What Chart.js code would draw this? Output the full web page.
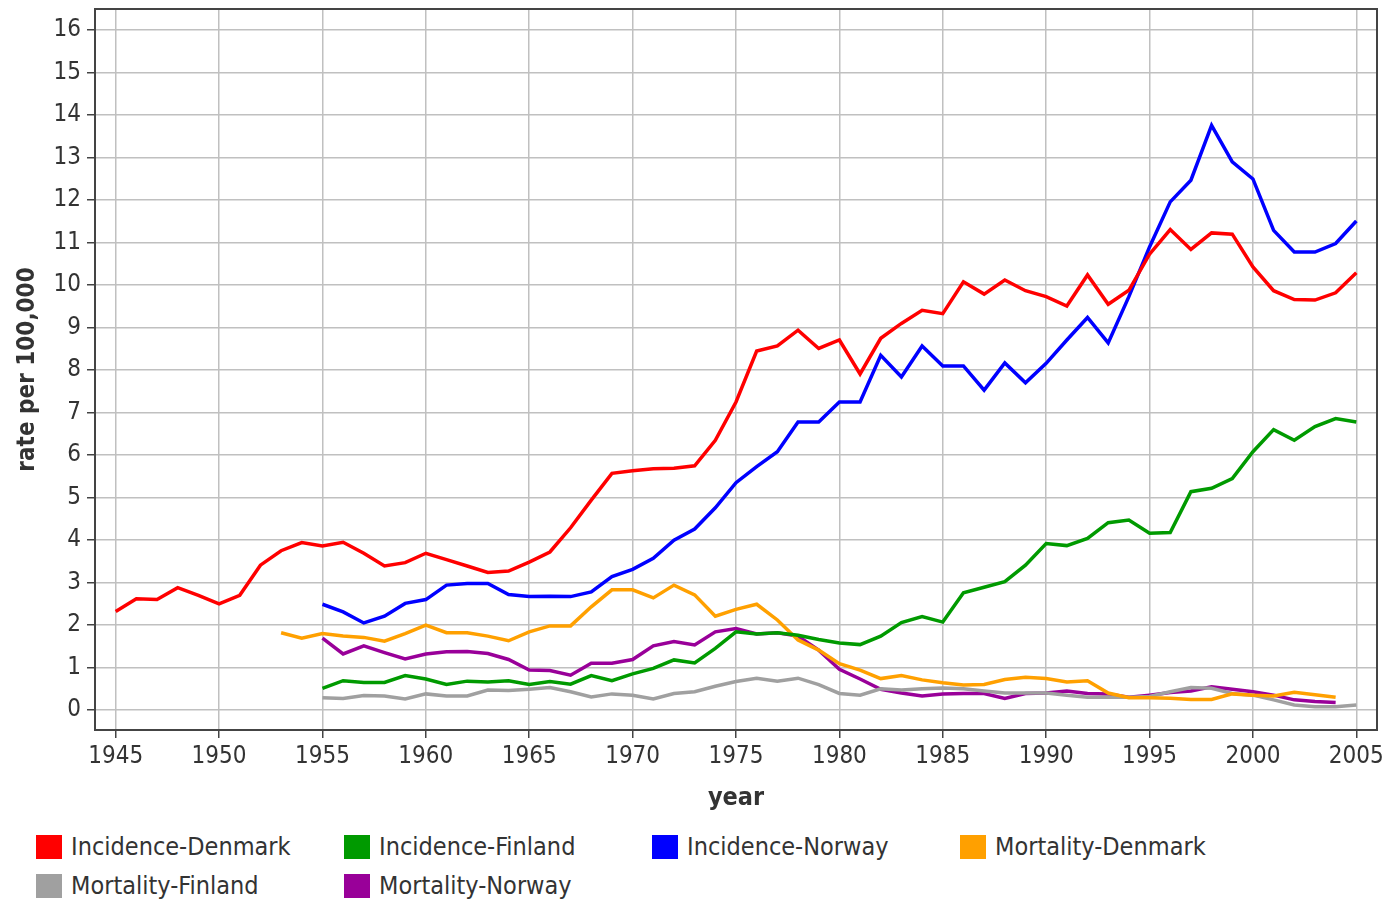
<!DOCTYPE html>
<html>
<head>
<meta charset="utf-8">
<script src="https://cdn.jsdelivr.net/npm/chart.js@4.4.0/dist/chart.umd.min.js"></script>
<style>
  body { margin: 0; background: #fff; }
  #wrap { position: relative; width: 1385px; height: 901px; font-family: "DejaVu Sans Condensed", "DejaVu Sans", sans-serif; }
  #box { position: absolute; left: 0; top: 0; width: 1385px; height: 820px; }
  .lg { position: absolute; display: flex; align-items: center; font-size: 25px; color: #333; white-space: nowrap; }
  .lg i { display: inline-block; width: 26px; height: 24px; margin-right: 9px; }
</style>
</head>
<body>
<div id="wrap">
  <div id="box"><canvas id="chart"></canvas></div>
  <div id="legend"></div>
</div>
<script>
// ---- data ----
const years = [1945,1946,1947,1948,1949,1950,1951,1952,1953,1954,
               1955,1956,1957,1958,1959,1960,1961,1962,1963,1964,
               1965,1966,1967,1968,1969,1970,1971,1972,1973,1974,
               1975,1976,1977,1978,1979,1980,1981,1982,1983,1984,
               1985,1986,1987,1988,1989,1990,1991,1992,1993,1994,
               1995,1996,1997,1998,1999,2000,2001,2002,2003,2004,2005];

const xTicks = [1945,1950,1955,1960,1965,1970,1975,1980,1985,1990,1995,2000,2005];
const yTicks = [0,1,2,3,4,5,6,7,8,9,10,11,12,13,14,15,16];

const labels = ["Incidence-Denmark","Incidence-Finland","Incidence-Norway",
                "Mortality-Denmark","Mortality-Finland","Mortality-Norway"];
const colors = ["#ff0000","#009a00","#0000ff","#ffa000","#a0a0a0","#990099"];

const incDenmark = [2.32,2.62,2.6,2.88,2.7,2.5,2.7,3.41,3.75,3.94,
                    3.86,3.95,3.69,3.39,3.47,3.69,3.54,3.39,3.24,3.27,
                    3.48,3.72,4.29,4.94,5.57,5.63,5.68,5.69,5.75,6.35,
                    7.25,8.45,8.57,8.94,8.51,8.71,7.91,8.75,9.1,9.41,
                    9.33,10.08,9.79,10.12,9.87,9.73,9.51,10.24,9.55,9.88,
                    10.73,11.31,10.84,11.23,11.2,10.43,9.87,9.66,9.65,9.82,10.29];

const incFinland = [null,null,null,null,null,null,null,null,null,null,
                    0.51,0.69,0.65,0.65,0.81,0.73,0.6,0.68,0.66,0.69,
                    0.6,0.67,0.61,0.81,0.69,0.85,0.98,1.18,1.11,1.45,
                    1.84,1.79,1.82,1.76,1.66,1.58,1.54,1.74,2.06,2.2,
                    2.07,2.76,2.89,3.02,3.41,3.92,3.87,4.04,4.41,4.47,
                    4.16,4.18,5.14,5.22,5.45,6.08,6.6,6.35,6.67,6.86,6.78];

const incNorway = [null,null,null,null,null,null,null,null,null,null,
                   2.49,2.31,2.05,2.21,2.51,2.6,2.94,2.98,2.98,2.72,
                   2.67,2.68,2.67,2.78,3.14,3.31,3.57,4.0,4.26,4.76,
                   5.35,5.73,6.08,6.78,6.78,7.25,7.25,8.35,7.84,8.57,
                   8.1,8.1,7.53,8.17,7.7,8.16,8.71,9.24,8.64,9.73,
                   10.9,11.96,12.47,13.76,12.9,12.5,11.29,10.78,10.78,10.98,11.51];

const morDenmark = [null,null,null,null,null,null,null,null,1.82,1.69,
                    1.8,1.74,1.71,1.62,1.8,2.0,1.82,1.82,1.74,1.63,
                    1.84,1.98,1.98,2.43,2.83,2.83,2.64,2.94,2.71,2.21,
                    2.37,2.49,2.12,1.65,1.41,1.09,0.94,0.74,0.81,0.71,
                    0.64,0.59,0.6,0.72,0.77,0.74,0.66,0.69,0.4,0.29,
                    0.29,0.28,0.25,0.25,0.38,0.35,0.33,0.42,0.36,0.3,null];

const morFinland = [null,null,null,null,null,null,null,null,null,null,
                    0.29,0.27,0.34,0.33,0.26,0.38,0.33,0.33,0.47,0.46,
                    0.49,0.53,0.43,0.31,0.38,0.35,0.26,0.39,0.43,0.56,
                    0.67,0.75,0.68,0.75,0.6,0.39,0.35,0.5,0.47,0.5,
                    0.52,0.5,0.45,0.4,0.4,0.4,0.35,0.3,0.3,0.3,
                    0.32,0.43,0.53,0.51,0.39,0.35,0.24,0.12,0.08,0.08,0.12];

const morNorway = [null,null,null,null,null,null,null,null,null,null,
                   1.69,1.32,1.51,1.35,1.2,1.32,1.37,1.38,1.33,1.19,
                   0.94,0.93,0.82,1.1,1.1,1.19,1.51,1.61,1.53,1.84,
                   1.92,1.79,1.82,1.74,1.41,0.96,0.73,0.49,0.4,0.33,
                   0.38,0.39,0.39,0.27,0.39,0.4,0.45,0.39,0.38,0.3,
                   0.35,0.41,0.45,0.55,0.49,0.43,0.35,0.24,0.2,0.18,null];

const seriesValues = [incDenmark, incFinland, incNorway, morDenmark, morFinland, morNorway];

// ---- layout ----
const FONT = '"DejaVu Sans Condensed", "DejaVu Sans", sans-serif';
const legendSlots = [[36,832],[344,832],[652,832],[960,832],[36,871],[344,871]];

const frame = {
  id: "frame",
  afterDraw(c) {
    const a = c.chartArea, g = c.ctx;
    g.save();
    g.strokeStyle = "#444";
    g.lineWidth = 2;
    g.strokeRect(a.left, a.top, a.right - a.left, a.bottom - a.top);
    g.restore();
  }
};

const ctx = document.getElementById("chart").getContext("2d");
const chart = new Chart(ctx, {
  type: "line",
  data: {
    datasets: labels.map((lab, k) => ({
      label: lab,
      data: years.map((yr, i) => ({ x: yr, y: seriesValues[k][i] })),
      borderColor: colors[k],
      backgroundColor: colors[k],
      borderWidth: 3.5,
      pointRadius: 0,
      tension: 0,
      spanGaps: false
    }))
  },
  options: {
    responsive: true,
    maintainAspectRatio: false,
    animation: false,
    layout: { padding: { top: 9, right: 8, left: 0, bottom: 0 } },
    plugins: { legend: { display: false }, tooltip: { enabled: false } },
    scales: {
      x: {
        type: "linear", min: 1944, max: 2006,
        afterBuildTicks: a => { a.ticks = xTicks.map(v => ({ value: v })); },
        afterFit: a => { a.height = 90; a.paddingLeft = 0; a.paddingRight = 0; },
        grid: { color: "#c0c0c0", lineWidth: 1.5, tickColor: "#444", tickLength: 8 },
        border: { color: "#444", width: 2 },
        ticks: { font: { family: FONT, size: 24 }, color: "#333", padding: 4, maxRotation: 0, autoSkip: false,
                 callback: v => String(v) },
        title: { display: true, text: "year", color: "#333", font: { family: FONT, size: 25, weight: "bold" },
                 padding: { top: 0, bottom: 7 } }
      },
      y: {
        type: "linear", min: -0.47, max: 16.5,
        afterBuildTicks: a => { a.ticks = yTicks.map(v => ({ value: v })); },
        afterFit: a => { a.width = 95; a.paddingTop = 0; a.paddingBottom = 0; },
        grid: { color: "#c0c0c0", lineWidth: 1.5, tickColor: "#444", tickLength: 8 },
        border: { color: "#444", width: 2 },
        ticks: { font: { family: FONT, size: 24 }, color: "#333", padding: 6, autoSkip: false,
                 callback: v => String(v) },
        title: { display: true, text: "rate per 100,000", color: "#333", font: { family: FONT, size: 24, weight: "bold" },
                 padding: { top: 13, bottom: 0 } }
      }
    }
  },
  plugins: [frame]
});

// legend below the chart, from the datasets
const $legend = document.getElementById("legend");
chart.data.datasets.forEach((d, k) => {
  const el = document.createElement("div");
  el.className = "lg";
  el.style.left = legendSlots[k][0] + "px";
  el.style.top = legendSlots[k][1] + "px";
  el.innerHTML = `<i style="background:${d.borderColor}"></i><span>${d.label}</span>`;
  $legend.appendChild(el);
});
</script>
</body>
</html>
